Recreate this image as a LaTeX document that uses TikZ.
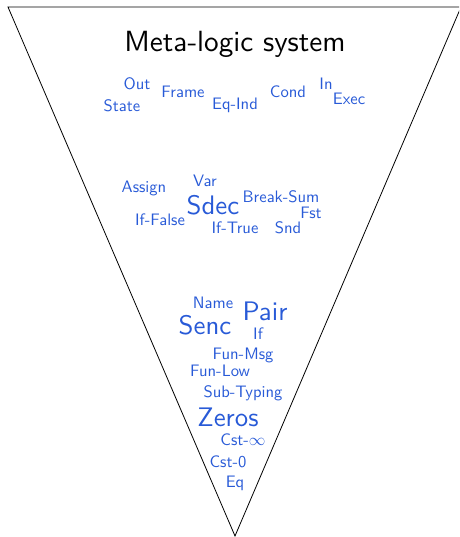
\documentclass[tikz,border=0pt]{standalone}
\usepackage{fontspec}
\definecolor{lblue}{RGB}{40,90,215}
\tikzset{
  lbl/.style={text=lblue, inner sep=0pt, font=\sffamily\fontsize{10}{12}\selectfont, scale=1.66},
  big/.style={text=lblue, inner sep=0pt, font=\sffamily\fontsize{10}{12}\selectfont, scale=2.68},
  ttl/.style={text=black, inner sep=0pt, font=\sffamily\fontsize{10}{12}\selectfont, scale=2.92},
  frame/.style={draw=black, line width=0.8pt}
}
\begin{document}
\begin{tikzpicture}[x=1pt,y=-1pt]
\useasboundingbox (0,0) rectangle (459,537);
\clip (0,0) rectangle (459,537);
\coordinate (tl) at (8,7);
\coordinate (tr) at (461,7);
\coordinate (bt) at (235,536);
\draw[frame] (tl) -- (tr) -- (bt) -- cycle;
\node[ttl] (title) at (235,44) {Meta-logic system};
% top group
\node[lbl] (out) at (137,84) {Out};
\node[lbl] (state) at (122,106) {State};
\node[lbl] (frame) at (183,92) {Frame};
\node[lbl] (eqind) at (235,105) {Eq-Ind};
\node[lbl] (cond) at (288,92) {Cond};
\node[lbl] (in) at (326,84) {In};
\node[lbl] (exec) at (349,99) {Exec};
% middle group
\node[lbl] (assign) at (144,188) {Assign};
\node[lbl] (var) at (205,181) {Var};
\node[big] (sdec) at (213,205) {Sdec};
\node[lbl] (breaksum) at (281,197) {Break-Sum};
\node[lbl] (fst) at (311,213) {Fst};
\node[lbl] (iffalse) at (160,220) {If-False};
\node[lbl] (iftrue) at (235,228) {If-True};
\node[lbl] (snd) at (288,228) {Snd};
% bottom group
\node[lbl] (name) at (213,303) {Name};
\node[big] (pair) at (265,311) {Pair};
\node[big] (senc) at (205,325) {Senc};
\node[lbl] (if) at (258,334) {If};
\node[lbl] (funmsg) at (243,355) {Fun-Msg};
\node[lbl] (funlow) at (220,371) {Fun-Low};
\node[lbl] (subtyping) at (243,393) {Sub-Typing};
\node[big] (zeros) at (228,417) {Zeros};
\node[lbl] (cstinf) at (243,440) {Cst-$\infty$};
\node[lbl] (cst0) at (228,462) {Cst-0};
\node[lbl] (eq) at (235,483) {Eq};
\end{tikzpicture}
\end{document}
